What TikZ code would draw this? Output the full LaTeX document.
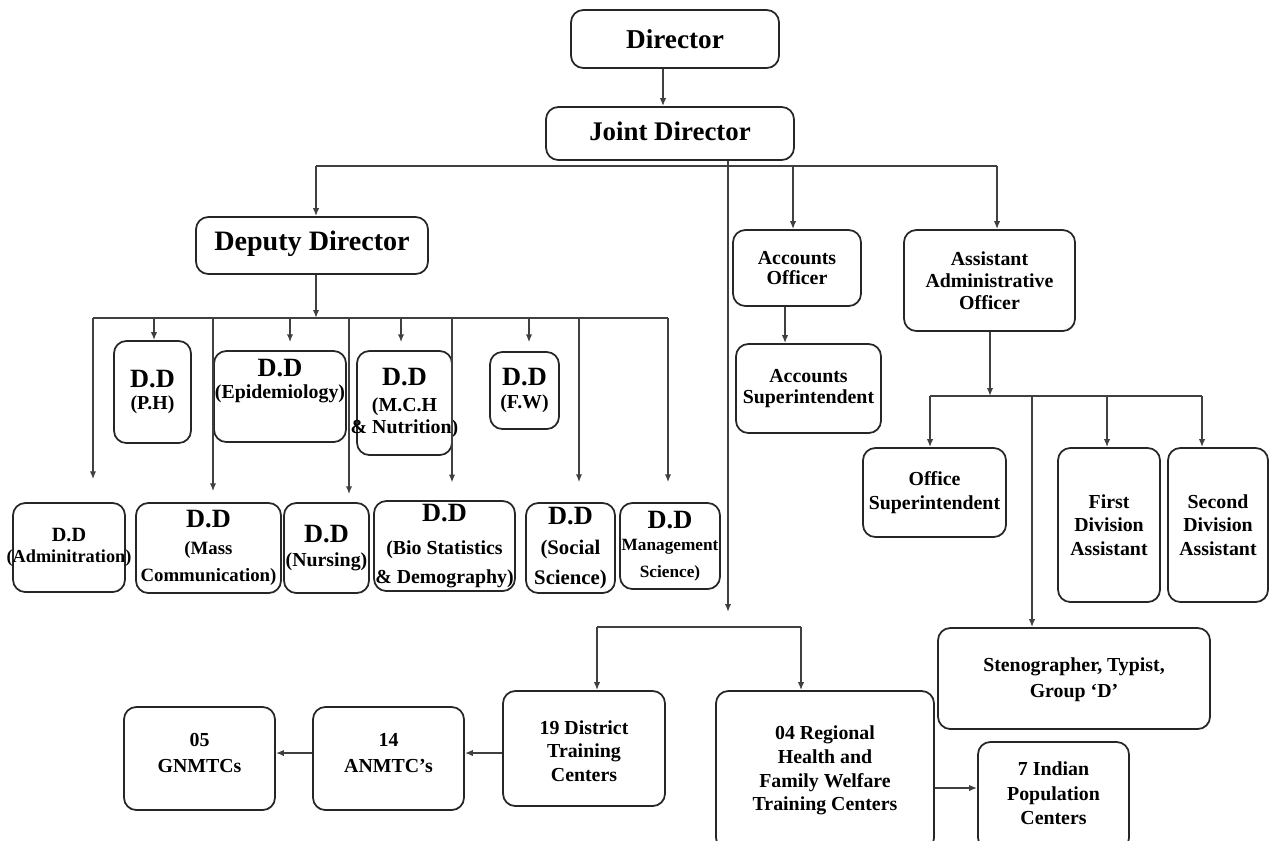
\documentclass[tikz,border=0pt]{standalone}
\usepackage{fontspec}
\setmainfont{Liberation Serif}
\usetikzlibrary{fit,arrows.meta,calc}
\newcommand\DDh[1][15]{{\fontsize{#1}{#1}\selectfont D.D}}
\begin{document}
\begin{tikzpicture}[x=0.02cm,y=-0.02cm,
  box/.style={draw=black!85,line width=1pt,rounded corners=7pt,inner sep=0pt},
  lab/.style={align=center,text=black,inner sep=0pt,font=\bfseries\fontsize{11.3}{#1}\selectfont},
  lab/.default=13,
  con/.style={draw=black!75,line width=1pt},
  arr/.style={con,-{Latex[length=4.5pt,width=3.6pt]}}]
\useasboundingbox (0,0) rectangle (1270,840);

% ---- top
\node[box,fit={(571,10)(779,68)},label={[lab,font=\bfseries\fontsize{15.5}{16}\selectfont]center:Director}] (dir) {};
\node[box,fit={(546,107)(794,160)},label={[lab,font=\bfseries\fontsize{15.3}{16}\selectfont,yshift=1.4pt]center:Joint Director}] (jd) {};
\node[box,fit={(196,217)(428,274)},label={[lab,font=\bfseries\fontsize{16}{17}\selectfont,yshift=1pt]center:Deputy Director}] (dep) {};

% ---- right branch
\node[box,fit={(733,230)(861,306)},label={[lab=11.5]center:{Accounts\\Officer}}] (ao) {};
\node[box,fit={(904,230)(1075,331)},label={[lab=12.5]center:{Assistant\\Administrative\\Officer}}] (aao) {};
\node[box,fit={(736,344)(881,433)},label={[lab=11.5]center:{Accounts\\Superintendent}}] (as) {};
\node[box,fit={(863,448)(1006,537)},label={[lab=13.5]center:{Office\\Superintendent}}] (os) {};
\node[box,fit={(1058,448)(1160,602)},label={[lab=13.5]center:{First\\Division\\Assistant}}] (fda) {};
\node[box,fit={(1168,448)(1268,602)},label={[lab=13.5]center:{Second\\Division\\Assistant}}] (sda) {};
\node[box,fit={(938,628)(1210,729)},label={[lab=14.7,yshift=-0.8pt]center:{Stenographer, Typist,\\Group ‘D’}}] (steno) {};

% ---- training centres
\node[box,fit={(503,691)(665,806)},label={[lab=13.5,yshift=-1.4pt]center:{19 District\\Training\\Centers}}] (dtc) {};
\node[box,fit={(716,691)(934,850)},label={[lab=13.5]center:{04 Regional\\Health and\\Family Welfare\\Training Centers}}] (rhf) {};
\node[box,fit={(978,742)(1129,850)},label={[lab=14,yshift=1.4pt]center:{7 Indian\\Population\\Centers}}] (ipc) {};
\node[box,fit={(313,707)(464,810)},label={[lab=14.7,yshift=3pt]center:{14\\ANMTC’s}}] (anm) {};
\node[box,fit={(124,707)(275,810)},label={[lab=14.7,yshift=3pt]center:{05\\GNMTCs}}] (gnm) {};

% ---- deputy directors, upper row
\node[box,fit={(114,341)(191,443)},label={[lab=13]center:{\DDh\\(P.H)}}] (ph) {};
\node[box,fit={(214,351)(346,442)},label={[lab=12.5,yshift=9pt]center:{\DDh\\(Epidemiology)}}] (epi) {};
\node[box,fit={(357,351)(452,455)},label={[lab=12.5]center:{\DDh\\[2pt](M.C.H\\\& Nutrition)}}] (mch) {};
\node[box,fit={(490,352)(559,429)},label={[lab=13]center:{\DDh\\(F.W)}}] (fw) {};

% ---- deputy directors, lower row
\node[box,fit={(13,503)(125,592)},label={[lab,font=\bfseries\fontsize{10.4}{12}\selectfont]center:{\DDh[11.5]\\(Adminitration)}}] (adm) {};
\node[box,fit={(136,503)(281,593)},label={[lab,font=\bfseries\fontsize{10.7}{15.5}\selectfont]center:{\DDh\\(Mass\\Communication)}}] (mass) {};
\node[box,fit={(284,503)(369,593)},label={[lab=14]center:{\DDh\\(Nursing)}}] (nur) {};
\node[box,fit={(374,501)(515,591)},label={[lab=16.4]center:{\DDh\\[2.3pt](Bio Statistics\\\& Demography)}}] (bio) {};
\node[box,fit={(526,503)(615,593)},label={[lab,font=\bfseries\fontsize{11.8}{17}\selectfont]center:{\DDh\\(Social\\Science)}}] (soc) {};
\node[box,fit={(620,503)(720,589)},label={[lab,font=\bfseries\fontsize{9.8}{12.5}\selectfont]center:{\DDh\\Management\\[3pt]Science)}}] (mgt) {};

% ---- connectors: Director / Joint Director
\coordinate (dx) at (663,0);
\draw[arr] (dir.south -| dx) -- (jd.north -| dx);
\coordinate (jbL) at (316,166);
\coordinate (jbA) at (793,166);
\coordinate (jbR) at (997,166);
\draw[con] (jbL) -- (jbR);
\draw[arr] (jbL) -- (jbL |- dep.north);
\draw[arr] (jbA) -- (jbA |- ao.north);
\draw[arr] (jbR) -- (jbR |- aao.north);

% main vertical to training centres
\coordinate (mvE) at (728,612);
\draw[arr] (jd.south -| mvE) -- (mvE);
\coordinate (tbL) at (597,627);
\coordinate (tbR) at (801,627);
\draw[con] (tbL) -- (tbR);
\draw[arr] (tbL) -- (tbL |- dtc.north);
\draw[arr] (tbR) -- (tbR |- rhf.north);
\coordinate (hy) at (0,753);
\draw[arr] (dtc.west |- hy) -- (anm.east |- hy);
\draw[arr] (anm.west |- hy) -- (gnm.east |- hy);
\coordinate (ry) at (0,788);
\draw[arr] (rhf.east |- ry) -- (ipc.west |- ry);

% accounts
\coordinate (ax) at (785,0);
\draw[arr] (ao.south -| ax) -- (as.north -| ax);

% administrative
\coordinate (ab) at (990,396);
\draw[arr] (aao.south -| ab) -- (ab);
\coordinate (abL) at (930,396);
\coordinate (abS) at (1032,396);
\coordinate (abF) at (1107,396);
\coordinate (abR) at (1202,396);
\draw[con] (abL) -- (abR);
\draw[arr] (abL) -- (abL |- os.north);
\draw[arr] (abS) -- (abS |- steno.north);
\draw[arr] (abF) -- (abF |- fda.north);
\draw[arr] (abR) -- (abR |- sda.north);

% deputy director bus
\coordinate (db) at (316,318);
\draw[arr] (dep.south -| db) -- (db);
\coordinate (d1) at (93,318);
\coordinate (d2) at (154,318);
\coordinate (d3) at (213,318);
\coordinate (d4) at (290,318);
\coordinate (d5) at (349,318);
\coordinate (d6) at (401,318);
\coordinate (d7) at (452,318);
\coordinate (d8) at (529,318);
\coordinate (d9) at (579,318);
\coordinate (d10) at (668,318);
\draw[con] (d1) -- (d10);
\draw[arr,shorten >=13pt] (d1) -- (d1 |- adm.north);
\draw[arr] (d2) -- (d2 |- ph.north);
\draw[arr,shorten >=6.2pt] (d3) -- (d3 |- mass.north);
\draw[arr,shorten >=4.5pt] (d4) -- (d4 |- epi.north);
\draw[arr,shorten >=4.5pt] (d5) -- (d5 |- nur.north);
\draw[arr,shorten >=4.5pt] (d6) -- (d6 |- mch.north);
\draw[arr,shorten >=10pt] (d7) -- (d7 |- bio.north);
\draw[arr,shorten >=5pt] (d8) -- (d8 |- fw.north);
\draw[arr,shorten >=11.3pt] (d9) -- (d9 |- soc.north);
\draw[arr,shorten >=11.3pt] (d10) -- (d10 |- mgt.north);
\end{tikzpicture}
\end{document}
